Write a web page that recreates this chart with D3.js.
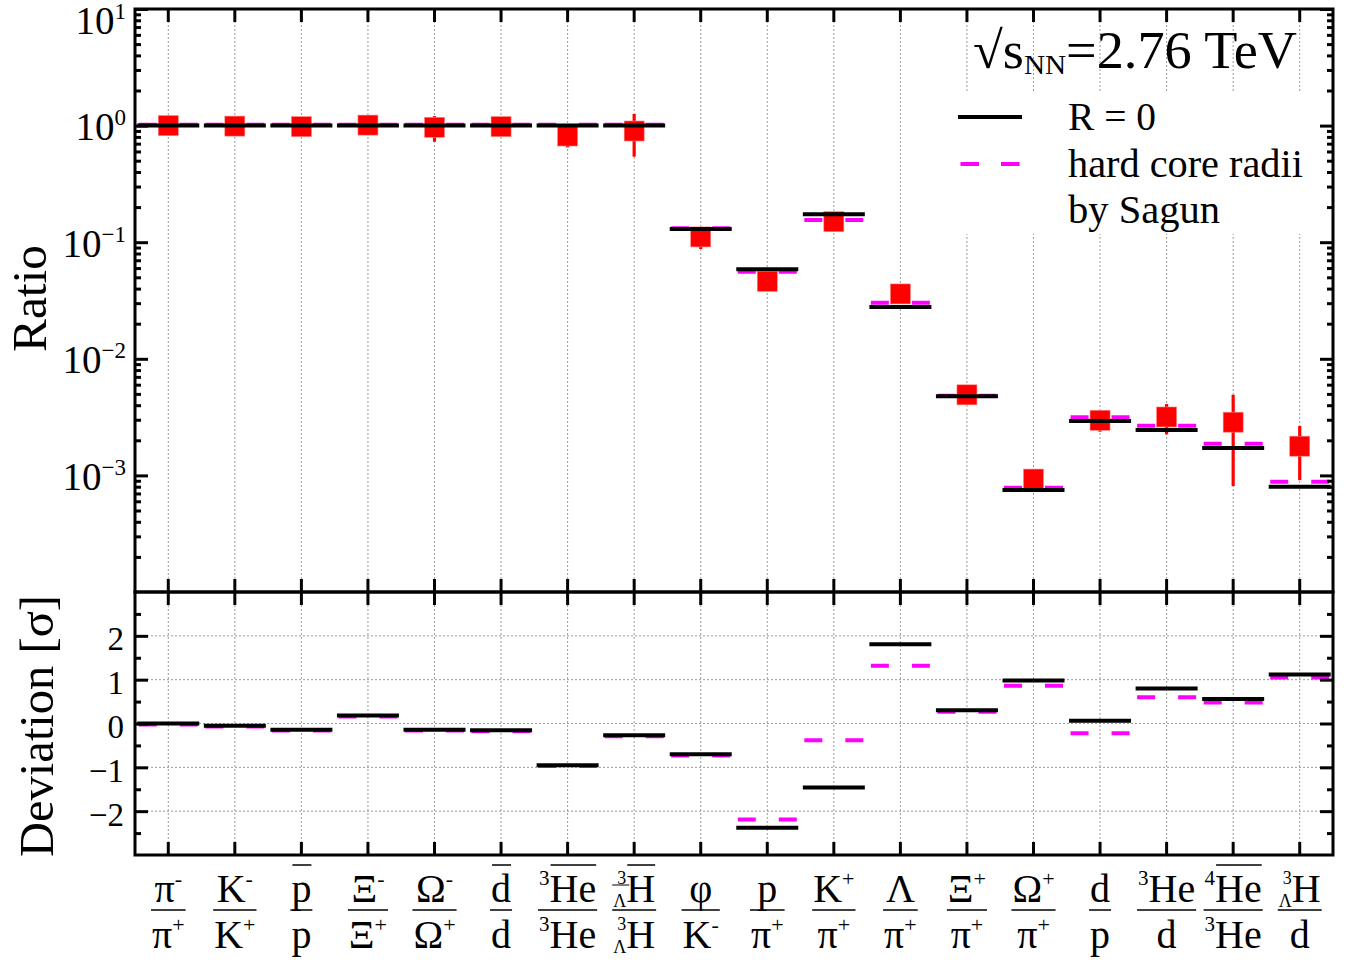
<!DOCTYPE html>
<html><head><meta charset="utf-8">
<script src="https://cdn.jsdelivr.net/npm/d3@7"></script>
<style>
body{margin:0;background:#fff}
text{font-family:"Liberation Serif","Times New Roman",serif;fill:#000}
</style>
</head><body>
<svg id="c" width="1359" height="961"></svg>
<script>
// ---------------- DATA ----------------
const categories = ["π-/π+","K-/K+","p̄/p","Ξ-/Ξ+","Ω-/Ω+","d̄/d","3He̅/3He̅","3ΛH̅/3ΛH","φ/K-","p/π+","K+/π+","Λ/π+","Ξ+/π+","Ω+/π+","d/p","3He/d","4He̅/3He̅","3ΛH/d"];
const labelNum = [
  {base:"π",sup:"-"},{base:"K",sup:"-"},{base:"p",bar:true},{base:"Ξ",sup:"-"},{base:"Ω",sup:"-"},
  {base:"d",bar:true},{pre:"3",base:"He",bar:true},{pre:"3",sub:"Λ",base:"H",bar:true,subBar:true},
  {base:"φ"},{base:"p"},{base:"K",sup:"+"},{base:"Λ"},{base:"Ξ",sup:"+"},{base:"Ω",sup:"+"},
  {base:"d"},{pre:"3",base:"He"},{pre:"4",base:"He",bar:true},{pre:"3",sub:"Λ",base:"H"}
];
const labelDen = [
  {base:"π",sup:"+"},{base:"K",sup:"+"},{base:"p"},{base:"Ξ",sup:"+"},{base:"Ω",sup:"+"},
  {base:"d"},{pre:"3",base:"He"},{pre:"3",sub:"Λ",base:"H"},
  {base:"K",sup:"-"},{base:"π",sup:"+"},{base:"π",sup:"+"},{base:"π",sup:"+"},{base:"π",sup:"+"},{base:"π",sup:"+"},
  {base:"p"},{base:"d"},{pre:"3",base:"He"},{base:"d"}
];
// measured ratios (red squares) and their errors
const ratioData = [1.00,0.99,0.98,1.01,0.967,0.98,0.814,0.899,0.111,0.0462,0.150,0.0360,0.00491,0.00093,0.00297,0.00317,0.00286,0.00178];
const ratioErr  = [0.04,0.04,0.04,0.04,0.24,0.04,0.163,0.358,0.0236,0.003,0.01,0.002,0.0003,0.00006,0.0006,0.00092,0.00205,0.00087];
// model R = 0 (black) and hard core radii by Sagun (magenta)
const ratioR0 = [1,1,1,1,1,1,1,1,0.130,0.0586,0.1735,0.0278,0.00477,0.00075,0.00293,0.00245,0.00172,0.00080];
const ratioHC = [1.015,1.015,1.015,1.015,1.015,1.015,1.015,1.015,0.132,0.0558,0.155,0.0303,0.00482,0.000785,0.00315,0.00267,0.00187,0.00088];
// deviations in sigma
const devR0 = [0.00,-0.05,-0.14,0.18,-0.14,-0.155,-0.95,-0.27,-0.70,-2.38,-1.46,1.81,0.30,0.98,0.06,0.80,0.56,1.12];
const devHC = [-0.02,-0.07,-0.16,0.16,-0.16,-0.175,-0.97,-0.29,-0.73,-2.19,-0.38,1.32,0.27,0.86,-0.22,0.60,0.48,1.05];
// tick labels
const topTickLabels = [{v:10,exp:"1"},{v:1,exp:"0"},{v:0.1,exp:"−1"},{v:0.01,exp:"−2"},{v:0.001,exp:"−3"}];
const botTickValues = [2,1,0,-1,-2];
const botTickLabels = ["2","1","0","−1","−2"];
const botMinorValues = [2.5,1.5,0.5,-0.5,-1.5,-2.5];
const legendItems = ["R = 0","hard core radii","by Sagun"];

// ---------------- LAYOUT ----------------
const L=135, R=1333, T=9, MID=592, B=855;
const svg = d3.select("#c");
const x = d3.scaleBand().domain(d3.range(categories.length)).range([L,R]);
const cx = i => x(i) + x.bandwidth()/2;
const yTop = d3.scaleLog().domain([1e-4,10]).range([MID,T]);
const yBot = d3.scaleLinear().domain([-3,3]).range([B,MID]);

const RED="#ff0000", MAG="#ff00ff";

// grids
const grid = svg.append("g").attr("stroke","#9a9a9a").attr("stroke-width",1).attr("stroke-dasharray","2,2");
grid.selectAll("line.v").data(categories).join("line")
  .attr("x1",(d,i)=>cx(i)).attr("x2",(d,i)=>cx(i)).attr("y1",T).attr("y2",B);
grid.selectAll("line.h").data(botTickValues).join("line")
  .attr("x1",L).attr("x2",R).attr("y1",d=>yBot(d)).attr("y2",d=>yBot(d));

// legend white box
svg.append("rect").attr("x",945).attr("y",92).attr("width",R-945-1).attr("height",142).attr("fill","#fff");

// markers top
const gm = svg.append("g");
gm.selectAll("line.err").data(ratioData).join("line")
  .attr("x1",(d,i)=>cx(i)).attr("x2",(d,i)=>cx(i))
  .attr("y1",(d,i)=>yTop(d+ratioErr[i])).attr("y2",(d,i)=>yTop(Math.max(d-ratioErr[i],1e-5)))
  .attr("stroke",RED).attr("stroke-width",3.2);
gm.selectAll("rect").data(ratioData).join("rect")
  .attr("x",(d,i)=>cx(i)-10).attr("y",d=>yTop(d)-10).attr("width",20).attr("height",20)
  .attr("fill",RED).attr("stroke","#ff8080").attr("stroke-width",0.6);

// model lines
function modelLines(g, vals, yS, color, dashed){
  g.selectAll(null).data(vals).join("line")
    .attr("x1",(d,i)=>cx(i)-(dashed?29.5:31)).attr("x2",(d,i)=>cx(i)+(dashed?29.5:31))
    .attr("y1",d=>yS(d)).attr("y2",d=>yS(d))
    .attr("stroke",color).attr("stroke-width",4)
    .attr("stroke-dasharray",dashed?"18,23":null);
}
modelLines(svg.append("g"), ratioHC, yTop, MAG, true);
modelLines(svg.append("g"), ratioR0, yTop, "#000", false);
modelLines(svg.append("g"), devHC, yBot, MAG, true);
modelLines(svg.append("g"), devR0, yBot, "#000", false);

// axes ticks
function styleAxis(g){ g.select(".domain").remove(); g.selectAll("line").attr("stroke","#000").attr("stroke-width",3); }
svg.append("g").attr("transform",`translate(0,${T})`).call(d3.axisTop(x).tickSize(-13).tickFormat("")).call(styleAxis);
svg.append("g").attr("transform",`translate(0,${MID})`).call(d3.axisBottom(x).tickSize(-13).tickFormat("")).call(styleAxis);
svg.append("g").attr("transform",`translate(0,${MID})`).call(d3.axisTop(x).tickSize(-13).tickFormat("")).call(styleAxis);
svg.append("g").attr("transform",`translate(0,${B})`).call(d3.axisBottom(x).tickSize(-13).tickFormat("")).call(styleAxis);

const topMajor = topTickLabels.map(d=>d.v);
const topMinor = yTop.ticks().filter(v=>!topMajor.some(m=>Math.abs(m-v)/m<1e-6) && v>1e-4 && v<10);
[[L,d3.axisLeft],[R,d3.axisRight]].forEach(([px,ax])=>{
  svg.append("g").attr("transform",`translate(${px},0)`).call(ax(yTop).tickValues(topMajor).tickSize(-13).tickFormat("")).call(styleAxis);
  svg.append("g").attr("transform",`translate(${px},0)`).call(ax(yTop).tickValues(topMinor).tickSize(-6).tickFormat("")).call(styleAxis);
  svg.append("g").attr("transform",`translate(${px},0)`).call(ax(yBot).tickValues(botTickValues).tickSize(-13).tickFormat("")).call(styleAxis);
  svg.append("g").attr("transform",`translate(${px},0)`).call(ax(yBot).tickValues(botMinorValues).tickSize(-6).tickFormat("")).call(styleAxis);
});

// frames
svg.append("rect").attr("x",L).attr("y",T).attr("width",R-L).attr("height",MID-T).attr("fill","none").attr("stroke","#000").attr("stroke-width",3);
svg.append("rect").attr("x",L).attr("y",MID).attr("width",R-L).attr("height",B-MID).attr("fill","none").attr("stroke","#000").attr("stroke-width",3);

// y tick labels top
topTickLabels.forEach((d,i)=>{
  const by = i===0 ? 33.5 : yTop(d.v)+14.5;
  const t = svg.append("text").attr("x",126).attr("y",by).attr("text-anchor","end").attr("font-size",39);
  t.append("tspan").text("10");
  t.append("tspan").attr("font-size",23).attr("dy",-15).text(d.exp);
});
// y tick labels bottom
botTickValues.forEach((v,i)=>{
  svg.append("text").attr("x",124).attr("y",yBot(v)+14.5).attr("text-anchor","end").attr("font-size",33).text(botTickLabels[i]);
});

// axis titles
function rotTitle(txt, xb, yc, fs, target){
  const t = svg.append("text").attr("text-anchor","middle").attr("font-size",fs)
    .attr("transform",`translate(${xb},${yc}) rotate(-90)`).text(txt);
  const w = t.node().getComputedTextLength();
  t.attr("font-size", fs*Math.min(1.12,Math.max(0.88,target/w)));
}
rotTitle("Ratio",46,298.5,49,107);
rotTitle("Deviation [σ]",53,726,49,262);

// x labels (fractions)
const FS=40, SFS=21;
function part(g, p, c, by){
  const grp = g.append("g");
  const pre = p.pre ? grp.append("text").attr("font-size",p.sub?18:SFS).text(p.pre) : null;
  const sub = p.sub ? grp.append("text").attr("font-size",18).text(p.sub) : null;
  const wPre = Math.max(pre?pre.node().getComputedTextLength():0, sub?sub.node().getComputedTextLength():0);
  const base = grp.append("text").attr("font-size",FS).text(p.base);
  const wBase = base.node().getComputedTextLength();
  const sup = p.sup ? grp.append("text").attr("font-size",SFS+1).text(p.sup) : null;
  const wSup = sup ? sup.node().getComputedTextLength() : 0;
  const tot = wPre+wBase+wSup, x0 = c-tot/2;
  if(pre) pre.attr("x",x0+wPre).attr("y",by-(p.sub?18:17)).attr("text-anchor","end");
  if(sub) sub.attr("x",x0+wPre).attr("y",by+5).attr("text-anchor","end");
  base.attr("x",x0+wPre).attr("y",by);
  if(sup) sup.attr("x",x0+wPre+wBase).attr("y",by-16);
  if(p.bar) grp.append("line").attr("x1",x0+wPre+1).attr("x2",x0+wPre+wBase).attr("y1",by-37).attr("y2",by-37).attr("stroke","#000").attr("stroke-width",1.5);
  if(p.subBar) grp.append("line").attr("x1",x0-1).attr("x2",x0+wPre+3).attr("y1",by-17).attr("y2",by-17).attr("stroke","#555").attr("stroke-width",1.5);
  return tot;
}
const gl = svg.append("g");
categories.forEach((c,i)=>{
  const wn = part(gl,labelNum[i],cx(i),902);
  const wd = part(gl,labelDen[i],cx(i),948);
  const w = Math.max(wn,wd)+2;
  gl.append("line").attr("x1",cx(i)-w/2).attr("x2",cx(i)+w/2).attr("y1",910).attr("y2",910).attr("stroke","#000").attr("stroke-width",1.5);
});

// legend
function fitX(sel, x0, target){
  const w = sel.node().getBBox().width;
  const k = Math.min(1.15,Math.max(0.87,target/w));
  sel.attr("transform",`translate(${x0},0) scale(${k},1) translate(${-x0},0)`);
}
const title = svg.append("text").attr("x",973).attr("y",68).attr("font-size",52);
title.append("tspan").text("√s");
title.append("tspan").attr("font-size",28).attr("dy",6).text("NN");
title.append("tspan").attr("dy",-6).text("=2.76 TeV");
fitX(title,973,324);

svg.append("line").attr("x1",958).attr("x2",1022).attr("y1",117).attr("y2",117).attr("stroke","#000").attr("stroke-width",4);
svg.append("line").attr("x1",960.5).attr("x2",1019.5).attr("y1",164).attr("y2",164).attr("stroke",MAG).attr("stroke-width",4).attr("stroke-dasharray","18.5,22");
const legY=[130,177,223], legW=[88,235,152];
legendItems.forEach((s,i)=>{
  const t = svg.append("text").attr("x",1068).attr("y",legY[i]).attr("font-size",40).text(s);
  fitX(t,1068,legW[i]);
});
</script>
</body></html>
